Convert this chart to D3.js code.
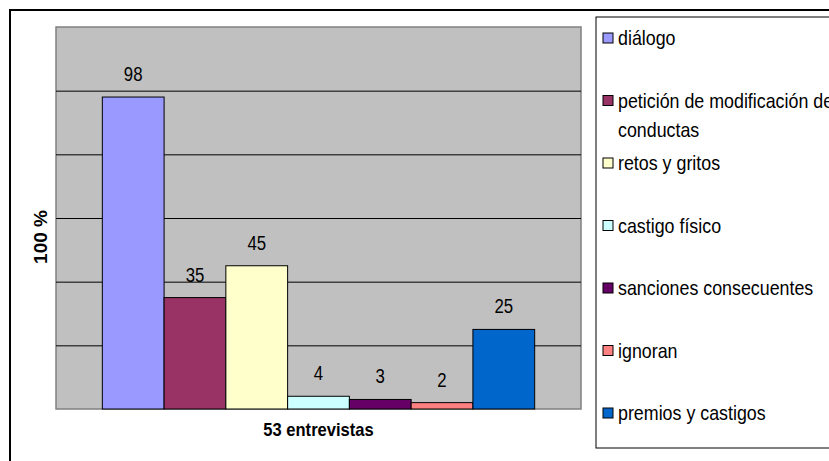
<!DOCTYPE html>
<html>
<head>
<meta charset="utf-8">
<script src="https://cdn.jsdelivr.net/npm/d3@7"></script>
<style>
  html, body { margin: 0; padding: 0; background: #fff; }
  svg { display: block; }
  text { font-family: "Liberation Sans", Arial, sans-serif; fill: #000; }
</style>
</head>
<body>
<svg id="chart" width="829" height="461"></svg>
<script>
// Single category, seven response types
const categories = ["53 entrevistas"];
const seriesNames = [
  "diálogo",
  "petición de modificación de conductas",
  "retos y gritos",
  "castigo físico",
  "sanciones consecuentes",
  "ignoran",
  "premios y castigos"
];
const seriesValues = [98, 35, 45, 4, 3, 2, 25];
const seriesColors = ["#9999FF", "#993366", "#FFFFCC", "#CCFFFF", "#660066", "#FF8080", "#0066CC"];
const yTickValues = [0, 20, 40, 60, 80, 100, 120];
const yAxisTitle = "100 %";

const svg = d3.select("#chart");
const W = 829, H = 461;

// Plot area
const plot = { left: 56, top: 27, right: 581, bottom: 409 };

// Outer chart frame (continues past the right and bottom edges)
svg.append("path")
  .attr("d", `M10,${H + 5} L10,10 L${W + 5},10`)
  .attr("fill", "none")
  .attr("stroke", "#000")
  .attr("stroke-width", 2);

// Plot background
svg.append("rect")
  .attr("x", plot.left).attr("y", plot.top)
  .attr("width", plot.right - plot.left)
  .attr("height", plot.bottom - plot.top)
  .attr("fill", "#C0C0C0")
  .attr("stroke", "#808080")
  .attr("stroke-width", 1.5);

const y = d3.scaleLinear()
  .domain([yTickValues[0], yTickValues[yTickValues.length - 1]])
  .range([plot.bottom, plot.top]);

// Horizontal gridlines via axis
const grid = svg.append("g")
  .attr("transform", `translate(${plot.left},0)`)
  .call(d3.axisLeft(y)
    .tickValues(yTickValues.slice(1, -1))
    .tickSize(-(plot.right - plot.left))
    .tickFormat(""));
grid.select(".domain").remove();
grid.selectAll(".tick line").attr("stroke", "#000").attr("stroke-width", 1);

// Category band with Excel-like 150% gap width
const gapWidth = 1.5;
const x0 = d3.scaleBand()
  .domain(categories)
  .range([plot.left, plot.right])
  .paddingInner(0)
  .paddingOuter((gapWidth / 2) / seriesNames.length);

const x1 = d3.scaleBand()
  .domain(d3.range(seriesNames.length))
  .range([0, x0.bandwidth()])
  .padding(0);

const bars = svg.append("g")
  .attr("transform", `translate(${x0(categories[0])},0)`);

bars.selectAll("rect")
  .data(seriesValues)
  .join("rect")
  .attr("x", (d, i) => x1(i))
  .attr("y", d => y(d))
  .attr("width", x1.bandwidth())
  .attr("height", d => y(0) - y(d))
  .attr("fill", (d, i) => seriesColors[i])
  .attr("stroke", "#000")
  .attr("stroke-width", 1);

// Value labels
bars.selectAll("text.val")
  .data(seriesValues)
  .join("text")
  .attr("class", "val")
  .attr("text-anchor", "middle")
  .attr("font-size", 21)
  .attr("transform", (d, i) => `translate(${x1(i) + x1.bandwidth() / 2},${y(d) - 16}) scale(0.8,1)`)
  .text(d => d);

// Axis titles
svg.append("text")
  .attr("text-anchor", "middle")
  .attr("font-size", 18)
  .attr("font-weight", "bold")
  .attr("transform", `translate(${(plot.left + plot.right) / 2},436) scale(0.92,1)`)
  .text(categories[0]);

svg.append("text")
  .attr("text-anchor", "middle")
  .attr("font-size", 19)
  .attr("font-weight", "bold")
  .attr("transform", `translate(47,237) rotate(-90)`)
  .text(yAxisTitle);

// Legend
const legend = { left: 596, top: 17, bottom: 448 };
svg.append("rect")
  .attr("x", legend.left).attr("y", legend.top)
  .attr("width", W - legend.left + 20)
  .attr("height", legend.bottom - legend.top)
  .attr("fill", "#fff")
  .attr("stroke", "#000")
  .attr("stroke-width", 1);

const ly = d3.scalePoint()
  .domain(d3.range(seriesNames.length))
  .range([38, 413]);

const legendScaleX = 0.85;
const maxLineWidth = 240;
const lineHeight = 29;

const items = svg.append("g").selectAll("g")
  .data(seriesNames)
  .join("g")
  .attr("transform", (d, i) => `translate(${legend.left},${ly(i)})`);

items.append("rect")
  .attr("x", 7).attr("y", -5)
  .attr("width", 10).attr("height", 10)
  .attr("fill", (d, i) => seriesColors[i])
  .attr("stroke", "#000")
  .attr("stroke-width", 1);

items.each(function(name, idx) {
  const g = d3.select(this);
  const t = g.append("text")
    .attr("font-size", 21)
    .attr("transform", `translate(22,0) scale(${legendScaleX},1)`);
  const words = name.split(" ");
  let line = [];
  let lineNo = 0;
  let tspan = t.append("tspan").attr("x", 0).attr("y", 0).attr("dy", "0.35em");
  for (const w of words) {
    line.push(w);
    tspan.text(line.join(" "));
    if (tspan.node().getComputedTextLength() * legendScaleX > maxLineWidth && line.length > 1) {
      line.pop();
      tspan.text(line.join(" "));
      line = [w];
      lineNo++;
      tspan = t.append("tspan").attr("x", 0).attr("y", lineNo * lineHeight).attr("dy", "0.35em").text(w);
    }
  }
});
</script>
</body>
</html>
